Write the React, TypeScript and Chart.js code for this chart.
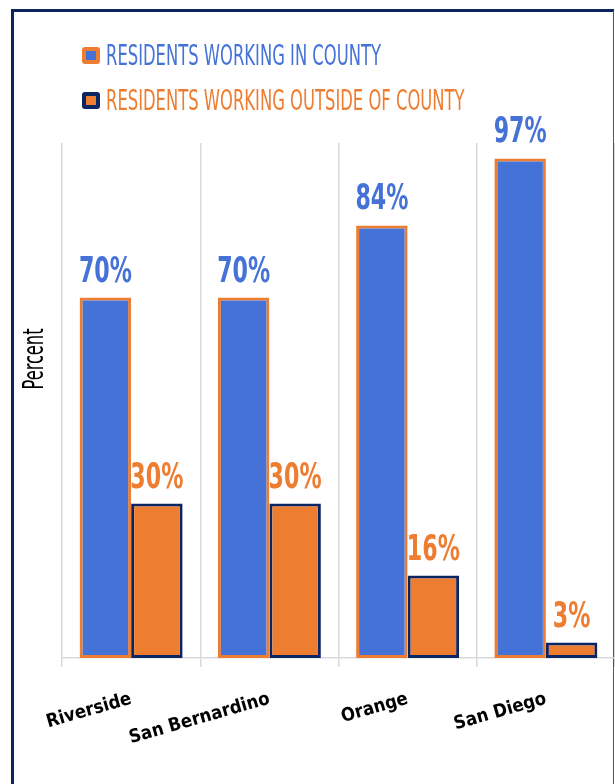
import { useEffect, useRef } from 'react';
import { Chart, registerables } from 'chart.js';

Chart.register(...registerables);

const counties = ['Riverside', 'San Bernardino', 'Orange', 'San Diego'];
const inCounty = [70, 70, 84, 97];
const outsideCounty = [30, 30, 16, 3];
const seriesNames = ['RESIDENTS WORKING IN COUNTY', 'RESIDENTS WORKING OUTSIDE OF COUNTY'];

const BLUE = '#4472D6';
const ORANGE = '#ED7D31';
const NAVY = '#0B2462';
const NARROW = '"Liberation Sans Narrow", "DejaVu Sans Condensed", sans-serif';

// value labels, legend and the y title, drawn in a condensed style
const decor = {
  id: 'decor',
  afterDatasetsDraw(chart: Chart) {
    const ctx = chart.ctx;
    ctx.save();
    ctx.font = `bold 36px ${NARROW}`;
    ctx.textAlign = 'center';
    ctx.textBaseline = 'alphabetic';
    const sx = 53 / ctx.measureText('70%').width;
    chart.data.datasets.forEach((ds, i) => {
      ctx.fillStyle = i === 0 ? BLUE : ORANGE;
      chart.getDatasetMeta(i).data.forEach((bar, j) => {
        ctx.save();
        ctx.translate(bar.x, bar.y - 16);
        ctx.scale(sx, 1);
        ctx.fillText(`${ds.data[j]}%`, 0, 0);
        ctx.restore();
      });
    });
    ctx.restore();
  },
  afterDraw(chart: Chart) {
    const ctx = chart.ctx;
    ctx.save();
    ctx.font = `29px ${NARROW}`;
    const sx = 275 / ctx.measureText(seriesNames[0]).width;
    const items = [
      { fill: BLUE, stroke: ORANGE, top: 47, text: BLUE },
      { fill: ORANGE, stroke: NAVY, top: 92, text: ORANGE },
    ];
    items.forEach((it, i) => {
      ctx.fillStyle = it.stroke;
      ctx.beginPath();
      ctx.roundRect(82, it.top, 18, 17, 3);
      ctx.fill();
      ctx.fillStyle = it.fill;
      ctx.fillRect(86, it.top + 4, 10, 9);
      ctx.save();
      ctx.translate(106, it.top + 18);
      ctx.scale(sx, 1);
      ctx.fillStyle = it.text;
      ctx.textBaseline = 'alphabetic';
      ctx.fillText(seriesNames[i], 0, 0);
      ctx.restore();
    });

    ctx.font = `28px ${NARROW}`;
    const px = 61 / ctx.measureText('Percent').width;
    ctx.translate(43, 359);
    ctx.rotate(-Math.PI / 2);
    ctx.scale(px, 1);
    ctx.fillStyle = '#000';
    ctx.textAlign = 'center';
    ctx.fillText('Percent', 0, 0);
    ctx.restore();
  },
};

export default function App() {
  const canvasRef = useRef<HTMLCanvasElement>(null);

  useEffect(() => {
    if (!canvasRef.current) return;
    const chart = new Chart(canvasRef.current, {
      type: 'bar',
      data: {
        labels: counties,
        datasets: [
          {
            label: seriesNames[0],
            data: inCounty,
            backgroundColor: BLUE,
            borderColor: ORANGE,
            borderWidth: 3,
            borderSkipped: false,
            categoryPercentage: 0.745,
            barPercentage: 1,
          },
          {
            label: seriesNames[1],
            data: outsideCounty,
            backgroundColor: ORANGE,
            borderColor: NAVY,
            borderWidth: 3,
            borderSkipped: false,
            categoryPercentage: 0.745,
            barPercentage: 1,
          },
        ],
      },
      options: {
        responsive: false,
        animation: false,
        layout: { padding: { left: 62, top: 143, right: 0, bottom: 0 } },
        plugins: { legend: { display: false }, tooltip: { enabled: false } },
        scales: {
          x: {
            grid: { color: '#D9D9D9', lineWidth: 1.5, tickLength: 9, offset: true },
            border: { color: '#D9D9D9', width: 1.5 },
            ticks: {
              color: '#000',
              font: { family: NARROW, size: 18.5, weight: 'bold' },
              minRotation: 16,
              maxRotation: 16,
              autoSkip: false,
              padding: 21,
            },
            afterFit: (scale) => {
              scale.height = 126;
            },
          },
          y: { display: false, min: 0, max: 100 },
        },
      },
      plugins: [decor],
    });
    return () => chart.destroy();
  }, []);

  return (
    <div style={{ position: 'absolute', left: 0, top: 0, width: 615, height: 784, overflow: 'hidden', background: '#fff' }}>
      <div
        style={{
          position: 'absolute',
          left: 11,
          top: 9,
          width: 603,
          height: 900,
          boxSizing: 'border-box',
          borderTop: `3px solid ${NAVY}`,
          borderLeft: `3px solid ${NAVY}`,
          borderRight: '1px solid #40578A',
        }}
      />
      <canvas ref={canvasRef} width={615} height={784} style={{ position: 'absolute', left: 0, top: 0 }} />
    </div>
  );
}
